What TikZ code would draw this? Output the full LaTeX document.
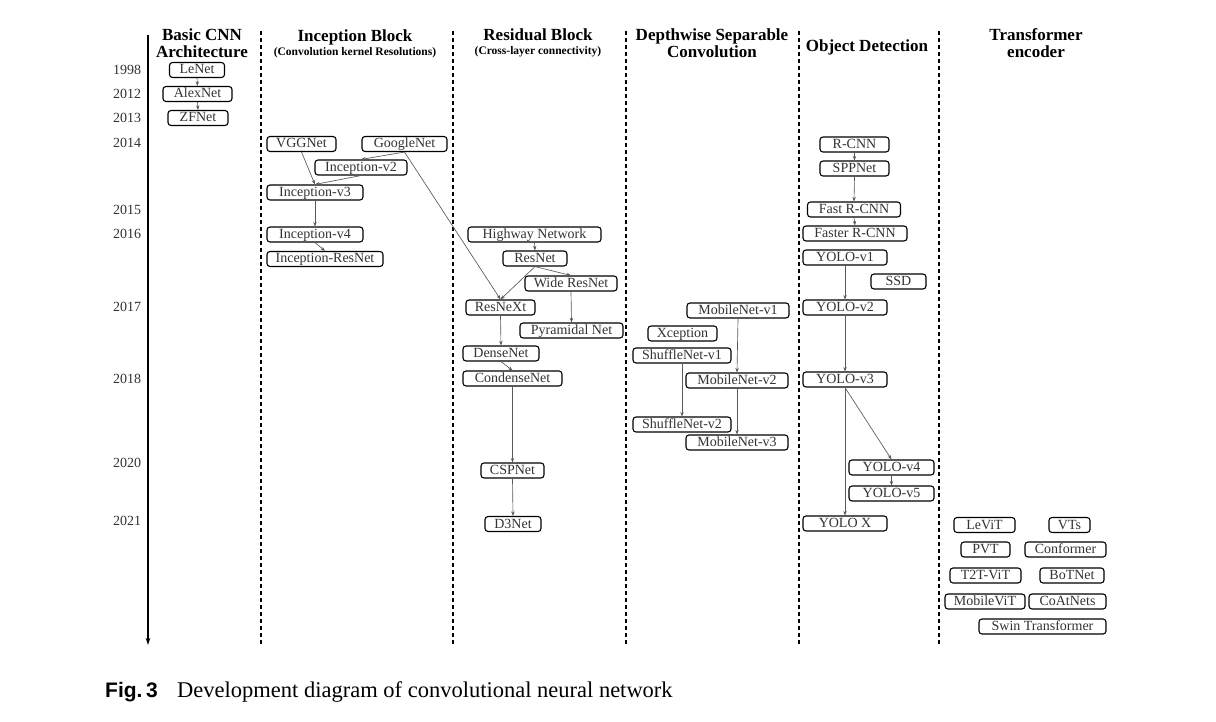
\documentclass[tikz,border=0pt]{standalone}
\usepackage{fontspec}
\setmainfont{Liberation Serif}
\newfontfamily\figsans{Liberation Sans}
\usetikzlibrary{arrows.meta}
\tikzset{
  net/.style={draw, rounded corners=3pt, line width=1.1pt, inner xsep=2pt, inner ysep=1.5pt,
    text height=10pt, text depth=2pt, text=black!80, font=\fontsize{14}{14}\selectfont},
  link/.style={draw=black!65, line width=0.65pt, -{Stealth[length=4.5pt,width=3.4pt]}},
  lane/.style={line width=1.2pt, dash pattern=on 4pt off 3pt},
  head/.style={anchor=base, inner sep=0pt, font=\bfseries\fontsize{17}{17}\selectfont},
  subhead/.style={anchor=base, inner sep=0pt, font=\bfseries\fontsize{11.5}{11.5}\selectfont},
  year/.style={inner sep=0pt, text=black!80, font=\fontsize{14}{14}\selectfont}
}
\begin{document}
\begin{tikzpicture}[x=1pt, y=-1pt]
  \useasboundingbox[fill=white] (0,0) rectangle (1216,722);
  \coordinate (axistop) at (148,35);
  \coordinate (axisend) at (148,645);
  \draw[line width=1.5pt, -{Stealth[length=7pt,width=4.5pt]}] (axistop) -- (axisend);
  \foreach \x in {261,453,626,799,939}
    \draw[lane] (\x,31) -- (\x,645);
  \foreach \yr/\y in {1998/70,2012/94,2013/118,2014/143,2015/210,2016/234,2017/307,2018/379,2020/463,2021/521}
    \node[year] (y\yr) at (127,\y) {\yr};
  % column heads
  \node[head] (basicA) at (202,41) {Basic CNN};
  \node[head] (basicB) at (202,58) {Architecture};
  \node[head] (incA) at (355,42) {Inception Block};
  \node[subhead] (incB) at (355,56) {(Convolution kernel Resolutions)};
  \node[head] (resA) at (538,41) {Residual Block};
  \node[subhead] (resB) at (538,55) {(Cross-layer connectivity)};
  \node[head] (dwA) at (712,41) {Depthwise Separable};
  \node[head] (dwB) at (712,58) {Convolution};
  \node[head] (odA) at (867,52) {Object Detection};
  \node[head] (trA) at (1036,41) {Transformer};
  \node[head] (trB) at (1036,58) {encoder};
  % basic CNN
  \node[net, minimum width=55] (lenet) at (197,70) {LeNet};
  \node[net, minimum width=69] (alexnet) at (197.5,94) {AlexNet};
  \node[net, minimum width=60] (zfnet) at (198,118) {ZFNet};
  % inception
  \node[net, minimum width=69] (vggnet) at (301.5,144) {VGGNet};
  \node[net, minimum width=85] (googlenet) at (404.5,144) {GoogleNet};
  \node[net, minimum width=92] (incv2) at (361,167.5) {Inception-v2};
  \node[net, minimum width=96] (incv3) at (315,192.5) {Inception-v3};
  \node[net, minimum width=96] (incv4) at (315,234.5) {Inception-v4};
  \node[net, minimum width=116] (incres) at (325,259) {Inception-ResNet};
  % residual
  \node[net, minimum width=133] (highway) at (534.5,234.5) {Highway Network};
  \node[net, minimum width=64] (resnet) at (535,258.5) {ResNet};
  \node[net, minimum width=92] (wideres) at (571,283.5) {Wide ResNet};
  \node[net, minimum width=69] (resnext) at (500.5,307.5) {ResNeXt};
  \node[net, minimum width=103] (pyramid) at (571.5,330.5) {Pyramidal Net};
  \node[net, minimum width=76] (densenet) at (501,353.5) {DenseNet};
  \node[net, minimum width=99] (condense) at (512.5,378.5) {CondenseNet};
  \node[net, minimum width=63] (cspnet) at (512.5,470.5) {CSPNet};
  \node[net, minimum width=56] (d3net) at (513,524) {D3Net};
  % depthwise
  \node[net, minimum width=102] (mobv1) at (738,310.5) {MobileNet-v1};
  \node[net, minimum width=69] (xception) at (682.5,333.5) {Xception};
  \node[net, minimum width=98] (shufv1) at (682,355.5) {ShuffleNet-v1};
  \node[net, minimum width=102] (mobv2) at (737,380.5) {MobileNet-v2};
  \node[net, minimum width=98] (shufv2) at (682,424.5) {ShuffleNet-v2};
  \node[net, minimum width=102] (mobv3) at (737,442.5) {MobileNet-v3};
  % detection
  \node[net, minimum width=69] (rcnn) at (854.5,144.5) {R-CNN};
  \node[net, minimum width=69] (sppnet) at (854.5,168.5) {SPPNet};
  \node[net, minimum width=93] (fastrcnn) at (854,209.5) {Fast R-CNN};
  \node[net, minimum width=104] (fasterrcnn) at (855,233.5) {Faster R-CNN};
  \node[net, minimum width=84] (yolov1) at (845,257.5) {YOLO-v1};
  \node[net, minimum width=55] (ssd) at (898.5,281.5) {SSD};
  \node[net, minimum width=84] (yolov2) at (845,307.5) {YOLO-v2};
  \node[net, minimum width=84] (yolov3) at (845,379.5) {YOLO-v3};
  \node[net, minimum width=85] (yolov4) at (891.5,467.5) {YOLO-v4};
  \node[net, minimum width=85] (yolov5) at (891.5,493.5) {YOLO-v5};
  \node[net, minimum width=84] (yolox) at (845,523.5) {YOLO X};
  % transformer
  \node[net, minimum width=61] (levit) at (984.5,525) {LeViT};
  \node[net, minimum width=41] (vts) at (1069.5,525) {VTs};
  \node[net, minimum width=49] (pvt) at (985.5,549.5) {PVT};
  \node[net, minimum width=81] (conformer) at (1065.5,549.5) {Conformer};
  \node[net, minimum width=71] (t2tvit) at (985.5,575.5) {T2T-ViT};
  \node[net, minimum width=64] (botnet) at (1072,575.5) {BoTNet};
  \node[net, minimum width=80] (mobilevit) at (985,601.5) {MobileViT};
  \node[net, minimum width=77] (coatnets) at (1067.5,601.5) {CoAtNets};
  \node[net, minimum width=127] (swin) at (1042.5,626.5) {Swin Transformer};
  \foreach \a/\b in {lenet/alexnet, alexnet/zfnet,
      vggnet/incv3, googlenet/incv2, incv2/incv3, incv3/incv4, incv4/incres, googlenet/resnext,
      highway/resnet, resnet/resnext, resnet/wideres, wideres/pyramid, resnext/densenet,
      densenet/condense, condense/cspnet, cspnet/d3net,
      mobv1/mobv2, mobv2/mobv3, shufv1/shufv2,
      rcnn/sppnet, sppnet/fastrcnn, fastrcnn/fasterrcnn, yolov1/yolov2, yolov2/yolov3,
      yolov3/yolox, yolov3/yolov4, yolov4/yolov5}
    \draw[link] (\a.south) -- (\b.north);
  \node[anchor=base west, inner sep=0pt, font=\figsans\bfseries\fontsize{21}{21}\selectfont] (fig) at (105,697) {Fig.\,3};
  \node[anchor=base west, inner sep=0pt, font=\fontsize{22.5}{22.5}\selectfont] (caption) at (177,697) {Development diagram of convolutional neural network};
\end{tikzpicture}
\end{document}
